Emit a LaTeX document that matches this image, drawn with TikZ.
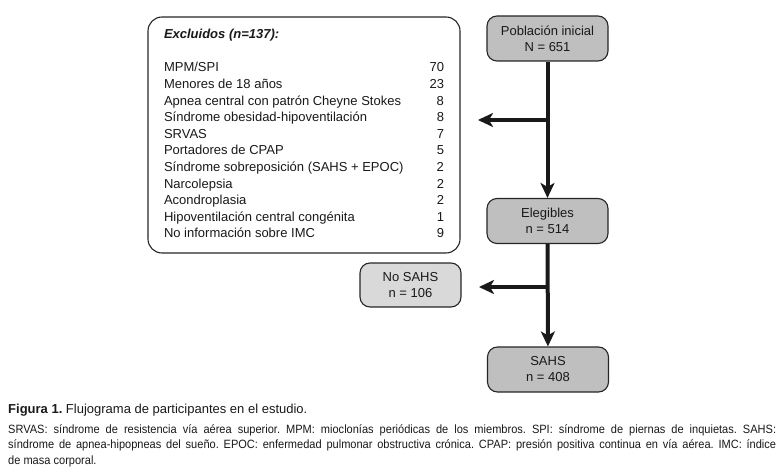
\documentclass[tikz,border=0pt]{standalone}
\usepackage{fontspec}
\setmainfont{Liberation Sans}
\newfontfamily\capfont[FakeStretch=0.92]{Liberation Sans}
\usetikzlibrary{arrows.meta,calc}
\tikzstyle{stagebox}=[draw=black!85,line width=1.1pt,rounded corners=10pt,fill=black!25,minimum width=121pt,minimum height=45pt,inner sep=0pt,align=center,text=black!90,font=\fontsize{13}{16}\selectfont]
\tikzstyle{sidebox}=[stagebox,fill=black!15,minimum width=101pt,minimum height=44pt]
\tikzstyle{exclbox}=[draw=black!85,line width=1.1pt,rounded corners=14pt,fill=white,minimum width=312pt,minimum height=236pt,inner sep=0pt,text=black!90,font=\fontsize{13}{16.6}\selectfont]
\tikzstyle{flow} = [draw=black!90,line width=4pt,-{Stealth[length=15pt,width=14pt,inset=4pt]}]

\begin{document}
\frenchspacing
\begin{tikzpicture}[x=1pt,y=-1pt]
   \useasboundingbox (0,0) rectangle (784,473);

   % main stages
    \foreach \pos/\name/\txt in {{(547.5,38.5)/pob/{Población inicial\\N = 651}}, {(547.5,221)/eleg/{Elegibles\\n = 514}}, {(548,369.5)/sahs/{SAHS\\n = 408}}}
    	\node[stagebox] (\name) at \pos {\txt};

   % side boxes
    \node[sidebox] (nosahs) at (410.5,285) {No SAHS\\n = 106};
    \node[exclbox] (excl) at (304,135) {%
      \begin{tabular*}{280pt}{@{}l@{\extracolsep{\fill}}r@{}}
        \textbf{\textit{Excluidos (n=137):}} & \\
         & \\
        MPM/SPI & 70\\
        Menores de 18 años & 23\\
        Apnea central con patrón Cheyne Stokes & 8\\
        Síndrome obesidad-hipoventilación & 8\\
        SRVAS & 7\\
        Portadores de CPAP & 5\\
        Síndrome sobreposición (SAHS + EPOC) & 2\\
        Narcolepsia & 2\\
        Acondroplasia & 2\\
        Hipoventilación central congénita & 1\\
        No información sobre IMC & 9
      \end{tabular*}};

   % connectors
    \coordinate (split1) at (pob |- 0,120);
    \coordinate (split2) at (eleg |- 0,287);
    \coordinate (exclin) at (478,120);
    \coordinate (nosahsin) at (479,287);
    \path[flow] (pob) -- (eleg);
    \path[flow] (eleg) -- (sahs);
    \path[flow] (split1) -- (exclin);
    \path[flow] (split2) -- (nosahsin);

   % caption
    \node[anchor=west,inner sep=0pt,text=black!90,font=\fontsize{13}{15}\selectfont] (figcap) at (8,410) {\textbf{Figura 1.} Flujograma de participantes en el estudio.};
    \node[anchor=north west,inner sep=0pt,text width=768pt,align=justify,text=black!90,font=\capfont\fontsize{12}{15.8}\selectfont] (capnote) at (8,424) {SRVAS: síndrome de resistencia vía aérea superior. MPM: mioclonías periódicas de los miembros. SPI: síndrome de piernas de inquietas. SAHS:\linebreak síndrome de apnea-hipopneas del sueño. EPOC: enfermedad pulmonar obstructiva crónica. CPAP: presión positiva continua en vía aérea. IMC: índice\linebreak de masa corporal.};

   \end{tikzpicture}
\end{document}
